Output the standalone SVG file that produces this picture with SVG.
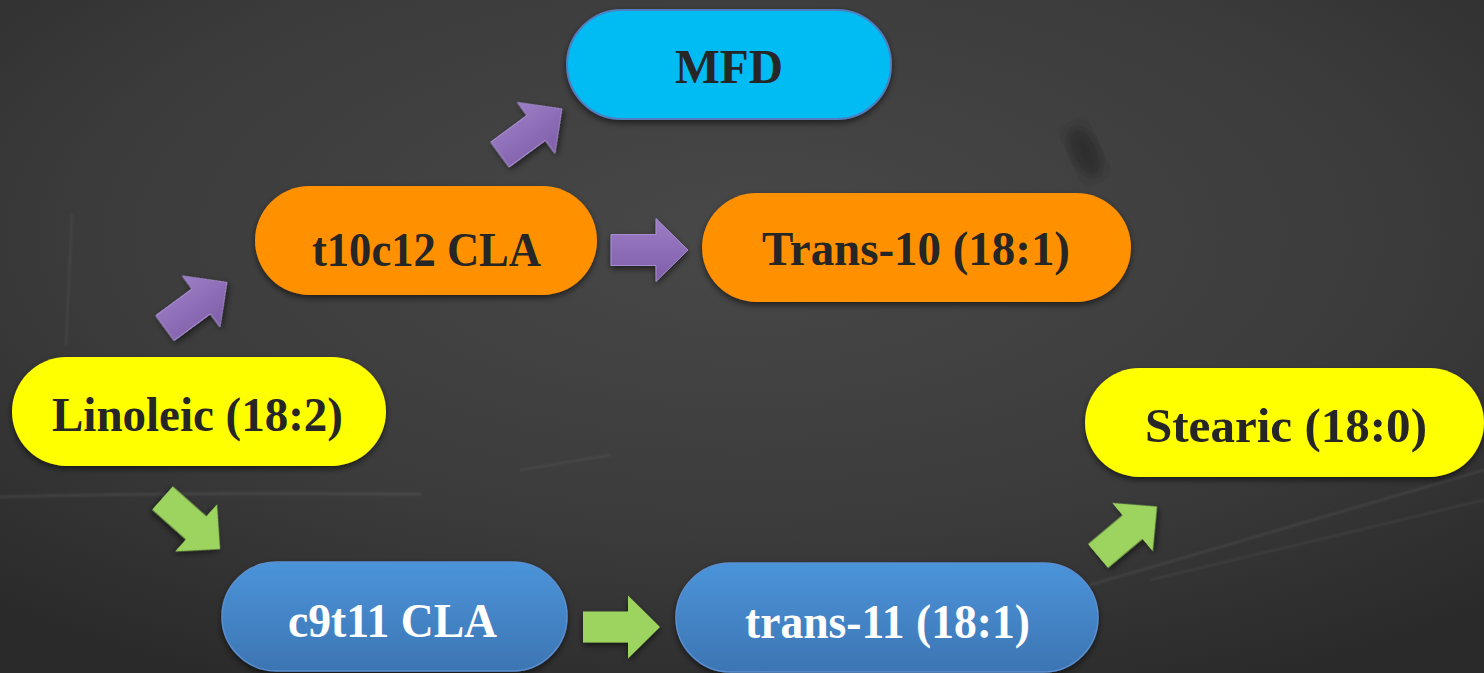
<svg xmlns="http://www.w3.org/2000/svg" width="1484" height="673" viewBox="0 0 1484 673">
<style>
.lbl{font-family:"Liberation Serif","Times New Roman",serif;font-weight:bold;font-size:48px;fill:#262626;text-anchor:middle}
.wht{fill:#ffffff}
.chalk{stroke:#bdbdbd;fill:none;stroke-linecap:round}
</style>
<defs>
<radialGradient id="bg" cx="0.5" cy="0.35" r="0.75">
<stop offset="0" stop-color="#484848"/>
<stop offset="0.6" stop-color="#3b3b3b"/>
<stop offset="1" stop-color="#2a2a2a"/>
</radialGradient>
<linearGradient id="blueG" x1="0" y1="0" x2="0" y2="1">
<stop offset="0" stop-color="#4b94da"/>
<stop offset="1" stop-color="#3d75b3"/>
</linearGradient>
<linearGradient id="purpleG" x1="0" y1="0" x2="0" y2="1">
<stop offset="0" stop-color="#9c7dc6"/>
<stop offset="1" stop-color="#7f5ea8"/>
</linearGradient>
<filter id="sh" x="-10%" y="-10%" width="120%" height="130%">
<feDropShadow dx="0" dy="3" stdDeviation="3" flood-color="#000" flood-opacity="0.55"/>
</filter>
<filter id="blur6"><feGaussianBlur stdDeviation="6"/></filter>
<filter id="blur1"><feGaussianBlur stdDeviation="1"/></filter>
<path id="arr" d="M0,-15.5 L45,-15.5 L45,-31.5 L77,0 L45,31.5 L45,15.5 L0,15.5 Z"/>
</defs>

<rect width="1484" height="673" fill="url(#bg)"/>
<g opacity="0.12" filter="url(#blur1)">
<path class="chalk" stroke-width="2.5" d="M0,497 Q200,492 420,494"/>
<path class="chalk" stroke-width="2" d="M1090,585 L1484,470"/>
<path class="chalk" stroke-width="1.5" d="M1150,580 L1484,500"/>
<path class="chalk" stroke-width="1.5" d="M72,215 L66,345"/>
<path class="chalk" stroke-width="1.5" d="M520,470 L610,455"/>
</g>
<ellipse cx="1085" cy="152" rx="14" ry="28" transform="rotate(-25 1085 152)" fill="#1e1e1e" opacity="0.5" filter="url(#blur6)"/>

<g id="connectors">
<use href="#arr" fill="url(#purpleG)" stroke="#a88ed0" stroke-width="1" filter="url(#sh)" transform="translate(500 154.5) rotate(-36.4)"/>
<use href="#arr" fill="url(#purpleG)" stroke="#a88ed0" stroke-width="1" filter="url(#sh)" transform="translate(165 328) rotate(-36.4)"/>
<use href="#arr" fill="url(#purpleG)" stroke="#a88ed0" stroke-width="1" filter="url(#sh)" transform="translate(611 250)"/>
<use href="#arr" fill="#9cd45e" filter="url(#sh)" transform="translate(162.5 498) rotate(41.6)"/>
<use href="#arr" fill="#9cd45e" filter="url(#sh)" transform="translate(583 627)"/>
<use href="#arr" fill="#9cd45e" filter="url(#sh)" transform="translate(1098 556) rotate(-40)"/>
</g>

<g id="node-mfd">
<rect x="567" y="10" width="324" height="109" rx="54.5" fill="#00bcf2" stroke="#4f7fc0" stroke-width="2" filter="url(#sh)"/>
<text class="lbl" x="729" y="83" textLength="108" lengthAdjust="spacingAndGlyphs">MFD</text>
</g>

<g id="node-t10c12">
<rect x="255" y="186" width="342" height="109" rx="54.5" fill="#ff9100" filter="url(#sh)"/>
<text class="lbl" x="426.5" y="266" textLength="229" lengthAdjust="spacingAndGlyphs">t10c12 CLA</text>
</g>

<g id="node-trans10">
<rect x="702" y="193" width="429" height="109" rx="54.5" fill="#ff9100" filter="url(#sh)"/>
<text class="lbl" x="916" y="265" textLength="308" lengthAdjust="spacingAndGlyphs">Trans-10 (18:1)</text>
</g>

<g id="node-linoleic">
<rect x="12" y="357" width="374" height="109" rx="54.5" fill="#ffff00" filter="url(#sh)"/>
<text class="lbl" x="197.5" y="431" textLength="291" lengthAdjust="spacingAndGlyphs">Linoleic (18:2)</text>
</g>

<g id="node-stearic">
<rect x="1085" y="368" width="399" height="109" rx="54.5" fill="#ffff00" filter="url(#sh)"/>
<text class="lbl" x="1286" y="442" textLength="282" lengthAdjust="spacingAndGlyphs">Stearic (18:0)</text>
</g>

<g id="node-c9t11">
<rect x="222" y="562" width="345" height="109" rx="54.5" fill="url(#blueG)" stroke="#5a8fd0" stroke-width="1.5" filter="url(#sh)"/>
<text class="lbl wht" x="392.5" y="637" textLength="209" lengthAdjust="spacingAndGlyphs">c9t11 CLA</text>
</g>

<g id="node-trans11">
<rect x="676" y="563" width="422" height="109" rx="54.5" fill="url(#blueG)" stroke="#5a8fd0" stroke-width="1.5" filter="url(#sh)"/>
<text class="lbl wht" x="887.5" y="638" textLength="285" lengthAdjust="spacingAndGlyphs">trans-11 (18:1)</text>
</g>
</svg>
